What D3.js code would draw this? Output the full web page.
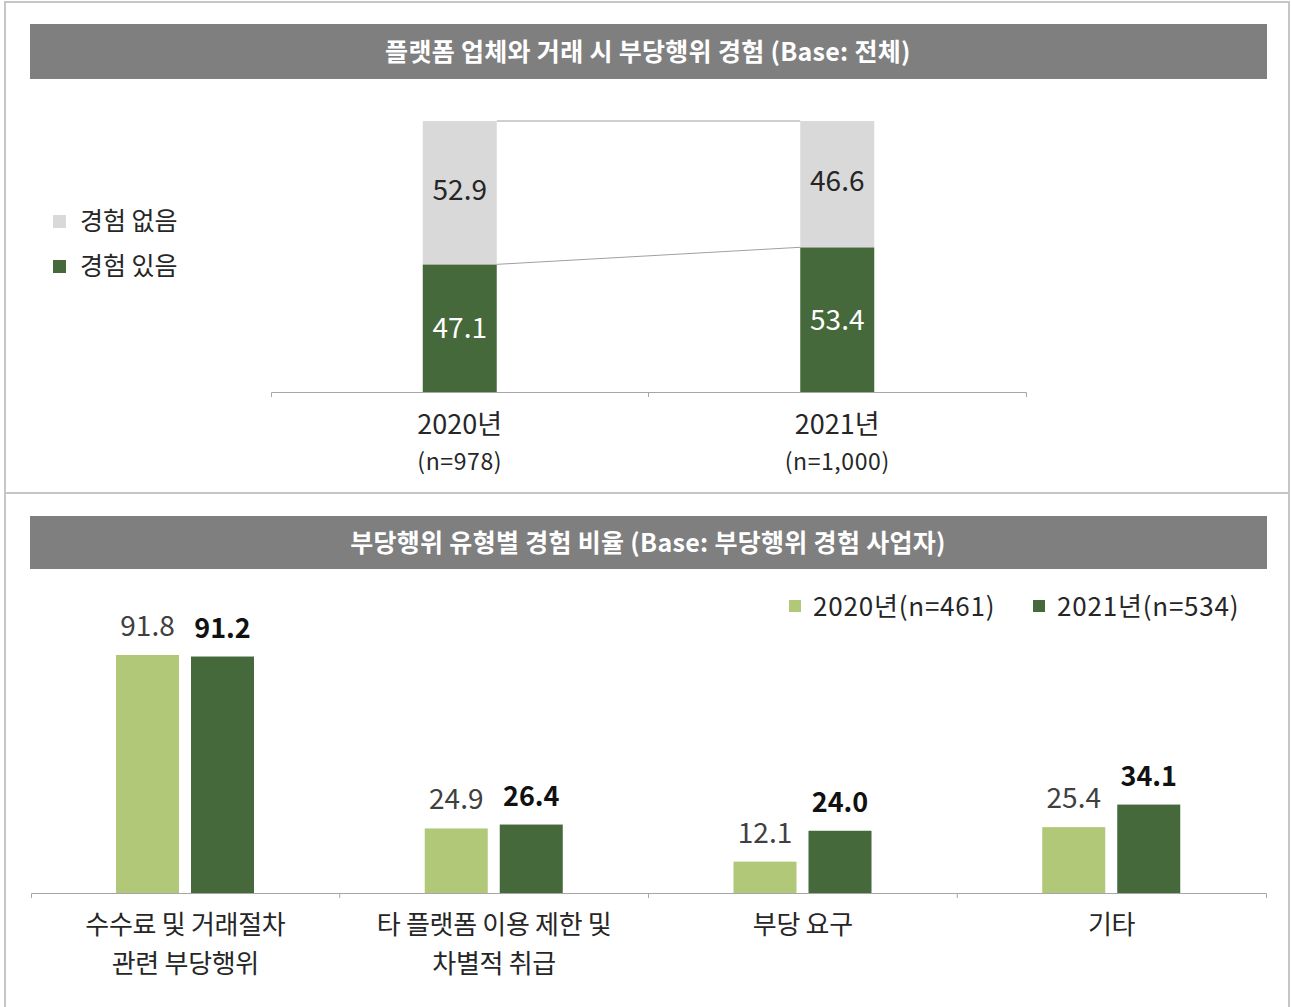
<!DOCTYPE html>
<html>
<head>
<meta charset="utf-8">
<script src="https://cdn.jsdelivr.net/npm/d3@7"></script>
<style>
  body { margin: 0; background: #fff; }
  text { font-family: "Noto Sans CJK KR", "Noto Sans", sans-serif; }
</style>
</head>
<body>
<div id="draw"></div>
<script>
// top chart: experience of unfair practice
var topTitle = '플랫폼 업체와 거래 시 부당행위 경험 (Base: 전체)';
var topYears = ['2020년', '2021년'];
var topSamples = ['(n=978)', '(n=1,000)'];
var topSeries = ['경험 있음', '경험 없음'];
var topYes = [47.1, 53.4];
var topNo = [52.9, 46.6];

// bottom chart: by type of unfair practice
var botTitle = '부당행위 유형별 경험 비율 (Base: 부당행위 경험 사업자)';
var botCats = [
    ['수수료 및 거래절차', '관련 부당행위'],
    ['타 플랫폼 이용 제한 및', '차별적 취급'],
    ['부당 요구'],
    ['기타']
];
var botSeries = ['2020년(n=461)', '2021년(n=534)'];
var bot2020 = [91.8, 24.9, 12.1, 25.4];
var bot2021 = [91.2, 26.4, 24.0, 34.1];

(function () {
    "use strict";

    var W = 1291, H = 1007,
        gray = '#d9d9d9',
        dark = '#46693c',
        light = '#b2c879',
        axisCol = '#a6a6a6',
        txt = '#262626';

    var svg = d3.select('#draw').append('svg')
        .attr('width', W).attr('height', H);

    // outer frame + divider
    svg.append('path')
        .attr('d', 'M5,1007 V2 H1289 V1007')
        .attr('fill', 'none').attr('stroke', '#c6c6c6').attr('stroke-width', 2);
    svg.append('line')
        .attr('x1', 5).attr('x2', 1289).attr('y1', 493).attr('y2', 493)
        .attr('stroke', '#c6c6c6').attr('stroke-width', 2);

    function titleBar(y, h, label) {
        svg.append('rect')
            .attr('x', 30).attr('y', y).attr('width', 1237).attr('height', h)
            .attr('fill', '#7f7f7f');
        svg.append('text')
            .attr('x', 648).attr('y', y + h / 2 + 9)
            .attr('text-anchor', 'middle')
            .attr('fill', '#fff').attr('font-size', 25).attr('font-weight', 'bold')
            .attr('letter-spacing', 0.3)
            .text(label);
    }

    // ---------- top chart ----------
    titleBar(24, 55, topTitle);

    var x = d3.scaleBand().domain(topYears).range([271, 1026]);
    var y = d3.scaleLinear().domain([0, 100]).range([392, 121]);
    var bw = 74;

    var stack = topYears.map(function (yr, i) {
        return { year: yr, yes: topYes[i], no: topNo[i] };
    });

    // connector lines between bars
    var cx = function (d) { return x(d.year) + x.bandwidth() / 2; };
    svg.append('line')
        .attr('x1', cx(stack[0]) + bw / 2).attr('x2', cx(stack[1]) - bw / 2)
        .attr('y1', y(stack[0].yes + stack[0].no)).attr('y2', y(stack[1].yes + stack[1].no))
        .attr('stroke', '#a0a0a0').attr('stroke-width', 1);
    svg.append('line')
        .attr('x1', cx(stack[0]) + bw / 2).attr('x2', cx(stack[1]) - bw / 2)
        .attr('y1', y(stack[0].yes)).attr('y2', y(stack[1].yes))
        .attr('stroke', '#a0a0a0').attr('stroke-width', 1);

    var g = svg.selectAll('.stk').data(stack).enter().append('g');
    g.append('rect')
        .attr('x', function (d) { return cx(d) - bw / 2; })
        .attr('y', function (d) { return y(d.yes); })
        .attr('width', bw)
        .attr('height', function (d) { return y(0) - y(d.yes); })
        .attr('fill', dark);
    g.append('rect')
        .attr('x', function (d) { return cx(d) - bw / 2; })
        .attr('y', function (d) { return y(d.yes + d.no); })
        .attr('width', bw)
        .attr('height', function (d) { return y(d.yes) - y(d.yes + d.no); })
        .attr('fill', gray);
    g.append('text')
        .attr('x', cx)
        .attr('y', function (d) { return (y(0) + y(d.yes)) / 2 + 10; })
        .attr('text-anchor', 'middle').attr('font-size', 28).attr('fill', '#fff')
        .text(function (d) { return d.yes.toFixed(1); });
    g.append('text')
        .attr('x', cx)
        .attr('y', function (d) { return (y(d.yes) + y(d.yes + d.no)) / 2 + 7; })
        .attr('text-anchor', 'middle').attr('font-size', 28).attr('fill', txt)
        .text(function (d) { return d.no.toFixed(1); });

    // axis
    var ax = svg.append('g').attr('transform', 'translate(0,392)')
        .call(d3.axisBottom(x).tickSizeInner(0).tickSizeOuter(5).tickFormat(''));
    ax.select('.domain').attr('stroke', axisCol);
    svg.append('line')
        .attr('x1', x(topYears[1])).attr('x2', x(topYears[1]))
        .attr('y1', 392).attr('y2', 397).attr('stroke', axisCol);

    topYears.forEach(function (yr, i) {
        var c = x(yr) + x.bandwidth() / 2;
        svg.append('text').attr('x', c).attr('y', 434)
            .attr('text-anchor', 'middle').attr('font-size', 27).attr('fill', txt)
            .text(yr);
        svg.append('text').attr('x', c).attr('y', 470)
            .attr('text-anchor', 'middle').attr('font-size', 23).attr('fill', txt)
            .attr('letter-spacing', 0.6)
            .text(topSamples[i]);
    });

    // legend top
    var topLeg = [{ name: topSeries[1], col: gray }, { name: topSeries[0], col: dark }];
    topLeg.forEach(function (d, i) {
        var ly = 215 + i * 45;
        svg.append('rect').attr('x', 53).attr('y', ly).attr('width', 13).attr('height', 13)
            .attr('fill', d.col);
        svg.append('text').attr('x', 80).attr('y', ly + 15)
            .attr('font-size', 25).attr('fill', txt).text(d.name);
    });

    // ---------- bottom chart ----------
    titleBar(516, 53, botTitle);

    var x0 = d3.scaleBand().domain(d3.range(botCats.length)).range([31, 1266]);
    var x1 = d3.scaleBand().domain(botSeries).range([85, 223]).paddingInner(0.16);
    var y2 = d3.scaleLinear().domain([0, 100]).range([893, 633.7]);
    var colors = [light, dark];

    var rows = botCats.map(function (c, i) {
        return { i: i, vals: [bot2020[i], bot2021[i]] };
    });

    var gg = svg.selectAll('.grp').data(rows).enter().append('g')
        .attr('transform', function (d) { return 'translate(' + x0(d.i) + ',0)'; });

    var bars = gg.selectAll('.b').data(function (d) {
        return d.vals.map(function (v, k) { return { s: botSeries[k], k: k, v: v }; });
    }).enter();

    bars.append('rect')
        .attr('x', function (d) { return x1(d.s); })
        .attr('y', function (d) { return y2(d.v); })
        .attr('width', x1.bandwidth())
        .attr('height', function (d) { return y2(0) - y2(d.v); })
        .attr('fill', function (d) { return colors[d.k]; });

    bars.append('text')
        .attr('x', function (d) { return x1(d.s) + x1.bandwidth() / 2; })
        .attr('y', function (d) { return y2(d.v) - 19; })
        .attr('text-anchor', 'middle')
        .attr('font-size', function (d) { return d.k ? 27 : 28; })
        .attr('font-weight', function (d) { return d.k ? 'bold' : 'normal'; })
        .attr('fill', function (d) { return d.k ? '#111' : '#404040'; })
        .text(function (d) { return d.v.toFixed(1); });

    var ax2 = svg.append('g').attr('transform', 'translate(0,893)')
        .call(d3.axisBottom(x0).tickSizeInner(0).tickSizeOuter(5).tickFormat(''));
    ax2.select('.domain').attr('stroke', axisCol);
    d3.range(1, botCats.length).forEach(function (i) {
        svg.append('line')
            .attr('x1', x0(i)).attr('x2', x0(i))
            .attr('y1', 893).attr('y2', 898).attr('stroke', axisCol);
    });

    botCats.forEach(function (lines, i) {
        var c = x0(i) + x0.bandwidth() / 2;
        lines.forEach(function (ln, j) {
            svg.append('text').attr('x', c).attr('y', 934 + j * 39)
                .attr('text-anchor', 'middle').attr('font-size', 26).attr('fill', txt)
                .attr('letter-spacing', -0.3)
                .text(ln);
        });
    });

    // legend bottom
    var legX = [789, 1033];
    botSeries.forEach(function (s, k) {
        svg.append('rect').attr('x', legX[k]).attr('y', 600).attr('width', 12).attr('height', 12)
            .attr('fill', colors[k]);
        svg.append('text').attr('x', legX[k] + 24).attr('y', 616)
            .attr('font-size', 26).attr('fill', txt).attr('letter-spacing', 0.8).text(s);
    });
}());
</script>
</body>
</html>
